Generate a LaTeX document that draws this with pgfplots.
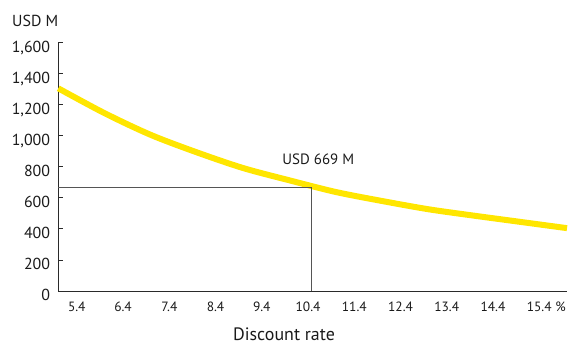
\documentclass[border=0pt]{standalone}
\usepackage{fontspec}
\setmainfont{PT Sans}
\usepackage{pgfplots}
\pgfplotsset{compat=1.18}
\definecolor{eyyellow}{HTML}{FFE600}
\definecolor{txt}{HTML}{1A1A1A}
\definecolor{axisc}{HTML}{2A2A2A}
\definecolor{refc}{HTML}{555555}
\begin{document}
\begin{tikzpicture}[x=1bp,y=1bp]
\useasboundingbox (0,0) rectangle (571,344);
\begin{axis}[
  at={(58.3bp,53bp)}, anchor=south west,
  scale only axis, width=508.7bp, height=248.3bp,
  xmin=5, xmax=16, ymin=0, ymax=1600,
  axis lines*=left,
  axis line style={draw=axisc, line width=0.9bp},
  clip=false,
  xtick={5.4,6.4,7.4,8.4,9.4,10.4,11.4,12.4,13.4,14.4,15.4},
  xticklabels={5.4,6.4,7.4,8.4,9.4,10.4,11.4,12.4,13.4,14.4,{15.4\rlap{ \%}}},
  x tick style={draw=none},
  xticklabel style={anchor=base, inner sep=0pt, yshift=-20.7bp, font=\fontsize{13.5}{15}\selectfont, text=txt},
  ytick={0,200,...,1600},
  tick align=inside,
  major tick length=5bp,
  y tick style={draw=axisc, line width=0.9bp},
  yticklabel style={anchor=base east, inner sep=0pt, xshift=-8bp, yshift=-9.7bp, font=\fontsize{16}{18}\selectfont, text=txt},
  /pgf/number format/.cd, 1000 sep={,}, assume math mode=true,
]
\addplot[eyyellow, line width=6bp, smooth] coordinates {
  (5.0,1306) (6.0,1146) (7.0,1006) (8.0,893) (9.0,792) (10.0,713)
  (11.0,638) (12.0,580) (13.0,527) (14.0,485) (15.0,445) (16.0,405)
};
\addplot[refc, line width=0.9bp] coordinates {(5,669) (10.47,669) (10.47,0)};
\end{axis}
\node[anchor=base west, inner sep=0pt, text=txt, font=\fontsize{16}{18}\selectfont] at (12,318) {USD M};
\node[anchor=base, inner sep=0pt, text=txt, font=\fontsize{18}{20}\selectfont] at (284,4) {Discount rate};
\node[anchor=base, inner sep=0pt, text=txt, font=\fontsize{15}{17}\selectfont] at (318.3,180) {USD 669 M};
\end{tikzpicture}
\end{document}
